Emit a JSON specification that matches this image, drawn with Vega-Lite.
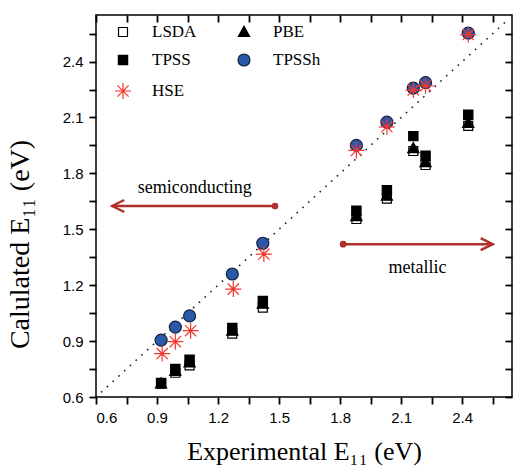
{
  "$schema": "https://vega.github.io/schema/vega-lite/v6.json",
  "width": 416,
  "height": 382,
  "autosize": {"type": "none"},
  "padding": {"left": 96, "top": 15, "right": 2, "bottom": 74},
  "background": "white",
  "config": {
    "view": {"stroke": "black", "strokeWidth": 1.5},
    "axis": {"grid": false, "domain": false, "ticks": true, "tickColor": "black", "tickWidth": 1.8, "tickOpacity": 1, "labelColor": "black", "titleColor": "black"},
    "legend": {
      "orient": "none", "legendX": 18, "legendY": 8, "columns": 2, "direction": "horizontal", "columnPadding": 38, "rowPadding": 11,
      "labelFont": "Liberation Serif", "labelFontSize": 17, "labelColor": "black", "symbolSize": 256,
      "labelOffset": 20, "padding": 0, "symbolStrokeWidth": 1.2
    }
  },
  "datasets": {
    "calc": [
      {"method": "LSDA", "exp": 0.92, "calc": 0.672},
      {"method": "LSDA", "exp": 0.99, "calc": 0.73},
      {"method": "LSDA", "exp": 1.06, "calc": 0.77},
      {"method": "LSDA", "exp": 1.27, "calc": 0.94},
      {"method": "LSDA", "exp": 1.42, "calc": 1.08},
      {"method": "LSDA", "exp": 1.88, "calc": 1.555},
      {"method": "LSDA", "exp": 2.03, "calc": 1.665},
      {"method": "LSDA", "exp": 2.16, "calc": 1.92},
      {"method": "LSDA", "exp": 2.22, "calc": 1.845},
      {"method": "LSDA", "exp": 2.43, "calc": 2.055},
      {"method": "PBE", "exp": 0.92, "calc": 0.672},
      {"method": "PBE", "exp": 0.99, "calc": 0.74},
      {"method": "PBE", "exp": 1.06, "calc": 0.785},
      {"method": "PBE", "exp": 1.27, "calc": 0.955},
      {"method": "PBE", "exp": 1.42, "calc": 1.1},
      {"method": "PBE", "exp": 1.88, "calc": 1.57},
      {"method": "PBE", "exp": 2.03, "calc": 1.68},
      {"method": "PBE", "exp": 2.16, "calc": 1.935},
      {"method": "PBE", "exp": 2.22, "calc": 1.86},
      {"method": "PBE", "exp": 2.43, "calc": 2.07},
      {"method": "TPSS", "exp": 0.92, "calc": 0.675},
      {"method": "TPSS", "exp": 0.99, "calc": 0.75},
      {"method": "TPSS", "exp": 1.06, "calc": 0.8},
      {"method": "TPSS", "exp": 1.27, "calc": 0.97},
      {"method": "TPSS", "exp": 1.42, "calc": 1.115},
      {"method": "TPSS", "exp": 1.88, "calc": 1.6},
      {"method": "TPSS", "exp": 2.03, "calc": 1.71},
      {"method": "TPSS", "exp": 2.16, "calc": 2.0},
      {"method": "TPSS", "exp": 2.22, "calc": 1.895},
      {"method": "TPSS", "exp": 2.43, "calc": 2.115},
      {"method": "TPSSh", "exp": 0.92, "calc": 0.905},
      {"method": "TPSSh", "exp": 0.99, "calc": 0.975},
      {"method": "TPSSh", "exp": 1.06, "calc": 1.035},
      {"method": "TPSSh", "exp": 1.27, "calc": 1.26},
      {"method": "TPSSh", "exp": 1.42, "calc": 1.425},
      {"method": "TPSSh", "exp": 1.88, "calc": 1.95},
      {"method": "TPSSh", "exp": 2.03, "calc": 2.075},
      {"method": "TPSSh", "exp": 2.16, "calc": 2.258},
      {"method": "TPSSh", "exp": 2.22, "calc": 2.287},
      {"method": "TPSSh", "exp": 2.43, "calc": 2.553},
      {"method": "HSE", "exp": 0.925, "calc": 0.833},
      {"method": "HSE", "exp": 0.99, "calc": 0.897},
      {"method": "HSE", "exp": 1.065, "calc": 0.956},
      {"method": "HSE", "exp": 1.275, "calc": 1.179},
      {"method": "HSE", "exp": 1.425, "calc": 1.367},
      {"method": "HSE", "exp": 1.88, "calc": 1.923},
      {"method": "HSE", "exp": 2.03, "calc": 2.05},
      {"method": "HSE", "exp": 2.16, "calc": 2.247},
      {"method": "HSE", "exp": 2.22, "calc": 2.27},
      {"method": "HSE", "exp": 2.43, "calc": 2.545}
    ],
    "diag": [{"v": 0.625}, {"v": 2.61}],
    "arrows": [
      {"label": "semiconducting", "start": 1.48, "end": 0.68, "y": 1.625, "tx": 1.085, "ty": 1.722},
      {"label": "metallic", "start": 1.815, "end": 2.55, "y": 1.42, "tx": 2.18, "ty": 1.29}
    ]
  },
  "layer": [
    {
      "data": {"name": "diag"},
      "mark": {"type": "line", "color": "#222222", "strokeWidth": 1.6, "strokeDash": [1.6, 6.2]},
      "encoding": {
        "x": {"field": "v", "type": "quantitative", "scale": {"domain": [0.6, 2.645], "nice": false, "zero": false},
          "axis": {"orient": "bottom", "values": [0.6,0.75,0.9,1.05,1.2,1.35,1.5,1.65,1.8,1.95,2.1,2.25,2.4,2.55],
            "labelExpr": "round(datum.value*100) % 30 == 0 ? format(datum.value, '.1f') : ''",
            "tickSize": 7, "labelPadding": 6, "labelFont": "Liberation Sans", "labelFontSize": 15,
            "title": "Experimental E₁₁ (eV)", "titleFont": "Liberation Serif", "titleFontSize": 26, "titleFontWeight": "normal", "titlePadding": 13}},
        "y": {"field": "v", "type": "quantitative", "scale": {"domain": [0.6, 2.65], "nice": false, "zero": false},
          "axis": {"orient": "left", "values": [0.6,0.75,0.9,1.05,1.2,1.35,1.5,1.65,1.8,1.95,2.1,2.25,2.4,2.55],
            "labelExpr": "round(datum.value*100) % 30 == 0 ? format(datum.value, '.1f') : ''",
            "tickSize": 7, "labelPadding": 6, "labelFont": "Liberation Sans", "labelFontSize": 15,
            "title": "Calulated E₁₁ (eV)", "titleFont": "Liberation Serif", "titleFontSize": 28, "titleFontWeight": "normal", "titlePadding": 28, "titleY": 229}}
      }
    },
    {
      "data": {"name": "calc"},
      "mark": {"type": "point", "filled": true, "opacity": 1, "strokeWidth": 1.2, "size": 256},
      "encoding": {
        "x": {"field": "exp", "type": "quantitative", "scale": {"domain": [0.6, 2.645], "nice": false, "zero": false},
          "axis": {"orient": "top", "values": [0.6,0.75,0.9,1.05,1.2,1.35,1.5,1.65,1.8,1.95,2.1,2.25,2.4,2.55], "labels": false, "title": null, "tickSize": 7, "offset": -7}},
        "y": {"field": "calc", "type": "quantitative", "scale": {"domain": [0.6, 2.65], "nice": false, "zero": false},
          "axis": {"orient": "right", "values": [0.6,0.75,0.9,1.05,1.2,1.35,1.5,1.65,1.8,1.95,2.1,2.25,2.4,2.55], "labels": false, "title": null, "tickSize": 7, "offset": -7}},
        "shape": {"field": "method", "type": "nominal", "title": null,
          "scale": {"domain": ["LSDA", "PBE", "TPSS", "TPSSh", "HSE"],
            "range": ["M-0.56,-0.56H0.56V0.56H-0.56Z", "M0,-0.72L0.7,0.55L-0.7,0.55Z", "M-0.58,-0.58H0.58V0.58H-0.58Z", "M-0.75,0A0.75,0.75 0 1,0 0.75,0A0.75,0.75 0 1,0 -0.75,0Z", "M-1,0L1,0M0,-1L0,1M-0.7,-0.7L0.7,0.7M-0.7,0.7L0.7,-0.7"]}},
        "fill": {"field": "method", "type": "nominal", "title": null,
          "scale": {"domain": ["LSDA", "PBE", "TPSS", "TPSSh", "HSE"], "range": ["white", "black", "black", "#2c58a8", "transparent"]}},
        "stroke": {"field": "method", "type": "nominal", "title": null,
          "scale": {"domain": ["LSDA", "PBE", "TPSS", "TPSSh", "HSE"], "range": ["black", "black", "black", "#17233f", "#f4362a"]}}
      }
    },
    {
      "data": {"name": "arrows"},
      "mark": {"type": "rule", "color": "#b0302c", "strokeWidth": 2.5},
      "encoding": {
        "x": {"field": "start", "type": "quantitative", "scale": {"domain": [0.6, 2.645], "nice": false, "zero": false}, "axis": null},
        "x2": {"field": "end"},
        "y": {"field": "y", "type": "quantitative", "scale": {"domain": [0.6, 2.65], "nice": false, "zero": false}, "axis": null}
      }
    },
    {
      "data": {"name": "arrows"},
      "mark": {"type": "point", "shape": "circle", "filled": true, "color": "#b0302c", "size": 45, "opacity": 1},
      "encoding": {
        "x": {"field": "start", "type": "quantitative", "scale": {"domain": [0.6, 2.645], "nice": false, "zero": false}, "axis": null},
        "y": {"field": "y", "type": "quantitative", "scale": {"domain": [0.6, 2.65], "nice": false, "zero": false}, "axis": null}
      }
    },
    {
      "data": {"name": "arrows"},
      "transform": [{"filter": "datum.end < datum.start"}],
      "mark": {"type": "point", "shape": "M2,-1L0,0L2,1", "filled": false, "color": "#b0302c", "size": 144, "strokeWidth": 2.5, "opacity": 1},
      "encoding": {
        "x": {"field": "end", "type": "quantitative", "scale": {"domain": [0.6, 2.645], "nice": false, "zero": false}, "axis": null},
        "y": {"field": "y", "type": "quantitative", "scale": {"domain": [0.6, 2.65], "nice": false, "zero": false}, "axis": null}
      }
    },
    {
      "data": {"name": "arrows"},
      "transform": [{"filter": "datum.end > datum.start"}],
      "mark": {"type": "point", "shape": "M-2,-1L0,0L-2,1", "filled": false, "color": "#b0302c", "size": 144, "strokeWidth": 2.5, "opacity": 1},
      "encoding": {
        "x": {"field": "end", "type": "quantitative", "scale": {"domain": [0.6, 2.645], "nice": false, "zero": false}, "axis": null},
        "y": {"field": "y", "type": "quantitative", "scale": {"domain": [0.6, 2.65], "nice": false, "zero": false}, "axis": null}
      }
    },
    {
      "data": {"name": "arrows"},
      "mark": {"type": "text", "font": "Liberation Serif", "fontSize": 18, "color": "black", "baseline": "middle", "align": "center"},
      "encoding": {
        "x": {"field": "tx", "type": "quantitative", "scale": {"domain": [0.6, 2.645], "nice": false, "zero": false}, "axis": null},
        "y": {"field": "ty", "type": "quantitative", "scale": {"domain": [0.6, 2.65], "nice": false, "zero": false}, "axis": null},
        "text": {"field": "label"}
      }
    }
  ],
  "resolve": {"scale": {"x": "independent", "y": "independent"}, "axis": {"x": "independent", "y": "independent"}}
}
